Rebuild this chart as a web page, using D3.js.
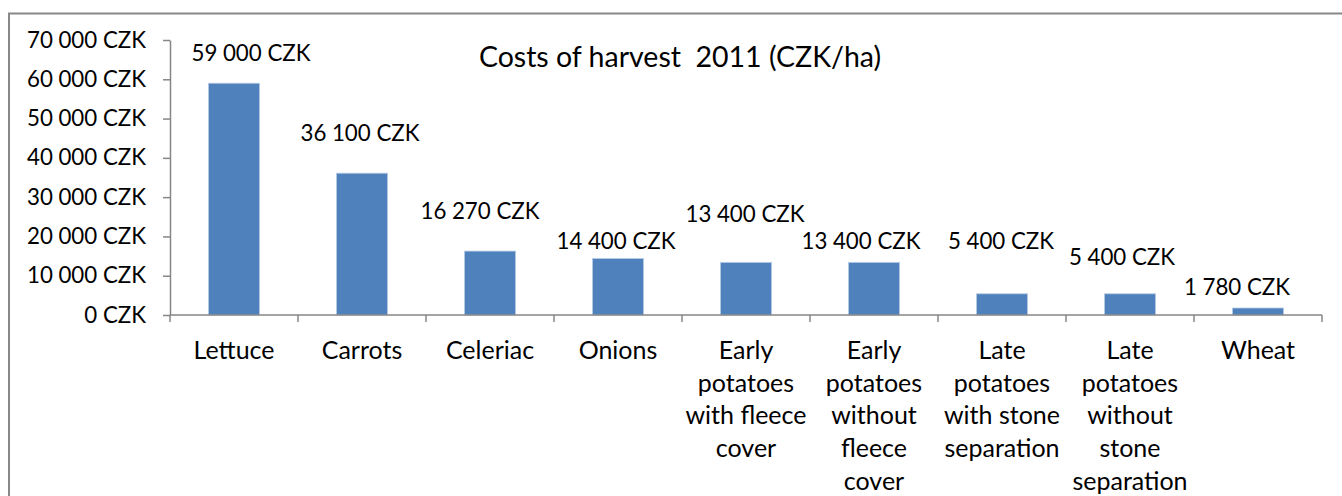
<!DOCTYPE html>
<html>
<head>
<meta charset="utf-8">
<script src="https://cdn.jsdelivr.net/npm/d3@7"></script>
<style>
  body { margin: 0; background: #fff; }
  svg { display: block; font-family: Lato, "Liberation Sans", sans-serif; }
</style>
</head>
<body>
<div id="container"></div>
<script>
// data
var categories = ["Lettuce", "Carrots", "Celeriac", "Onions",
  "Early potatoes with fleece cover", "Early potatoes without fleece cover",
  "Late potatoes with stone separation", "Late potatoes without stone separation", "Wheat"];
var costs = [59000, 36100, 16270, 14400, 13400, 13400, 5400, 5400, 1780];
var yTicks = [0, 10000, 20000, 30000, 40000, 50000, 60000, 70000];
var catLines = [["Lettuce"], ["Carrots"], ["Celeriac"], ["Onions"],
  ["Early", "potatoes", "with fleece", "cover"],
  ["Early", "potatoes", "without", "fleece", "cover"],
  ["Late", "potatoes", "with stone", "separation"],
  ["Late", "potatoes", "without", "stone", "separation"],
  ["Wheat"]];
var title = "Costs of harvest  2011 (CZK/ha)";

// hand-placed data labels (px from bar centre / bar top), like the original
var labelNudge = [[17, -30], [-2, -40], [-10, -40], [-2, -17], [-1, -48],
  [-13, -21], [-1, -53], [-8, -37], [-21, -21]];

var W = 1342, H = 496;
var plot = {left: 170, right: 1322, top: 40, bottom: 315};

var svg = d3.select("#container").append("svg")
  .attr("width", W)
  .attr("height", H);

svg.append("rect")
  .attr("x", 9).attr("y", 13.5)
  .attr("width", W + 20).attr("height", H + 20)
  .attr("fill", "#fff")
  .attr("stroke", "#888")
  .attr("stroke-width", 2);

var xScale = d3.scaleBand()
  .domain(categories)
  .range([plot.left, plot.right])
  .paddingInner(0.6)
  .paddingOuter(0.3);

var yScale = d3.scaleLinear()
  .domain([0, 70000])
  .range([plot.bottom, plot.top]);

var fmt = function(v) { return d3.format(",")(v).replace(/,/g, "\u2005") + " CZK"; };

// y axis
var yAxis = svg.append("g")
  .attr("transform", "translate(" + plot.left + ",0)")
  .call(d3.axisLeft(yScale)
    .tickValues(yTicks)
    .tickSize(7)
    .tickSizeOuter(0)
    .tickPadding(17)
    .tickFormat(fmt));
yAxis.select(".domain").attr("stroke", "#868686").attr("stroke-width", 1.5);
yAxis.selectAll(".tick line").attr("stroke", "#868686").attr("stroke-width", 1.5);
yAxis.selectAll(".tick text")
  .attr("font-family", "Lato, sans-serif")
  .attr("font-size", 22.3)
  .attr("fill", "#000");

// bars
svg.selectAll(".bar")
  .data(categories)
  .enter()
  .append("rect")
    .attr("class", "bar")
    .attr("x", function(d) { return xScale(d); })
    .attr("y", function(d, i) { return yScale(costs[i]); })
    .attr("width", xScale.bandwidth())
    .attr("height", function(d, i) { return yScale(0) - yScale(costs[i]); })
    .attr("fill", "#4f81bd")
    .attr("stroke", "#b9cde5")
    .attr("stroke-width", 0.8);

// x axis baseline + ticks between categories
var step = xScale.step();
var xg = svg.append("g");
xg.append("line")
  .attr("x1", plot.left).attr("x2", plot.right)
  .attr("y1", yScale(0)).attr("y2", yScale(0))
  .attr("stroke", "#868686").attr("stroke-width", 1.5);
xg.selectAll(".xtick")
  .data(d3.range(categories.length + 1))
  .enter()
  .append("line")
    .attr("x1", function(i) { return plot.left + i * step; })
    .attr("x2", function(i) { return plot.left + i * step; })
    .attr("y1", yScale(0))
    .attr("y2", yScale(0) + 7)
    .attr("stroke", "#868686").attr("stroke-width", 1.5);

// category labels
var catText = svg.selectAll(".cat")
  .data(categories)
  .enter()
  .append("text")
    .attr("class", "cat")
    .attr("text-anchor", "middle")
    .attr("font-size", 25)
    .attr("fill", "#000");
catText.each(function(d, i) {
  var t = d3.select(this);
  var cx = xScale(d) + xScale.bandwidth() / 2;
  catLines[i].forEach(function(line, j) {
    t.append("tspan")
      .attr("x", cx)
      .attr("y", 359 + j * 32.7)
      .text(line);
  });
});

// data labels
svg.selectAll(".lbl")
  .data(categories)
  .enter()
  .append("text")
    .attr("class", "lbl")
    .attr("text-anchor", "middle")
    .attr("font-size", 22.3)
    .attr("fill", "#000")
    .attr("x", function(d, i) { return xScale(d) + xScale.bandwidth() / 2 + labelNudge[i][0]; })
    .attr("y", function(d, i) { return yScale(costs[i]) + labelNudge[i][1]; })
    .attr("dy", "0.35em")
    .text(function(d, i) { return fmt(costs[i]); });

// title
svg.append("text")
  .attr("x", 680)
  .attr("y", 57)
  .attr("dy", "0.35em")
  .attr("text-anchor", "middle")
  .attr("font-size", 28.5)
  .attr("fill", "#000")
  .style("white-space", "pre")
  .text(title);
</script>
</body>
</html>
